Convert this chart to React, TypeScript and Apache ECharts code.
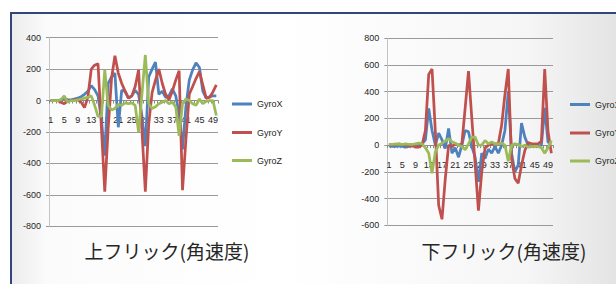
import React, { useEffect, useRef } from "react";
import * as echarts from "echarts";

const categories = [
  "1","2","3","4","5","6","7","8","9","10",
  "11","12","13","14","15","16","17","18","19","20",
  "21","22","23","24","25","26","27","28","29","30",
  "31","32","33","34","35","36","37","38","39","40",
  "41","42","43","44","45","46","47","48","49","50",
];
const seriesNames = ["GyroX", "GyroY", "GyroZ"];
const seriesColors = ["#4F81BD", "#C0504D", "#9BBB59"];

// 上フリック(角速度)
const upX = [0,0,0,5,15,5,5,10,15,25,40,60,95,70,30,-120,-350,110,150,175,-170,65,60,15,30,65,40,-100,-290,150,200,245,40,60,20,30,75,30,-90,-310,-40,130,195,240,210,60,15,25,30,30];
const upY = [0,0,0,-10,-20,0,0,5,5,-10,-45,20,200,225,235,-170,-580,-180,140,285,175,110,60,15,30,90,195,-190,-580,-150,50,130,200,110,40,5,60,130,190,-570,-250,40,90,140,185,100,15,20,55,100];
const upZ = [0,0,0,5,30,-10,0,0,5,10,15,20,30,-30,-100,-100,195,-30,-60,-50,-25,-30,-15,-20,-15,-30,-200,40,290,-20,-50,-40,-20,-10,0,-20,-10,-40,-225,-20,10,0,-20,-30,10,-20,-5,0,0,-95];

// 下フリック(角速度)
const dnX = [-5,-10,-10,-5,-10,-15,-10,-5,-10,0,10,40,275,110,0,90,40,-25,125,-60,-20,-90,0,110,100,-10,-90,-275,-60,-100,-30,-60,-10,-60,0,110,400,-60,-200,-150,165,60,0,-10,-5,-10,0,280,20,20];
const dnY = [0,5,5,10,5,0,-5,0,-15,-15,0,110,530,570,100,-450,-555,-250,0,-10,10,0,10,280,555,200,-140,-490,-200,-20,0,10,10,10,150,380,570,-100,-250,-285,-150,-40,20,10,10,10,30,570,100,-60];
const dnZ = [5,5,10,5,5,10,5,5,10,15,10,-20,-60,-210,-50,0,15,30,50,25,15,0,-10,-35,10,60,60,0,0,35,10,25,10,10,15,0,-120,0,10,5,-10,0,-15,-10,-10,-10,-20,-60,-20,35];

const upTicks = { min: -800, max: 400, interval: 200 };
const dnTicks = { min: -600, max: 800, interval: 200 };

const FONT = "'Liberation Sans', Arial, sans-serif";

const GRIDS = [
  { left: 49, top: 37.7, width: 169, height: 188.6 },
  { left: 387.3, top: 38.3, width: 165.7, height: 187 },
];

export default function App() {
  const ref = useRef<HTMLDivElement>(null);
  useEffect(() => {
    if (!ref.current) return;
    const chart = echarts.init(ref.current, undefined, { renderer: "svg" });

    const ticks = [upTicks, dnTicks];
    // place the category axis where the value axis crosses zero
    const zeroOffset = (gi: number) => {
      const t = ticks[gi];
      const g = GRIDS[gi];
      return -g.height * ((0 - t.min) / (t.max - t.min));
    };

    const mkX = (gi: number) => ({
      type: "category",
      gridIndex: gi,
      data: categories,
      boundaryGap: true,
      position: "bottom",
      offset: zeroOffset(gi),
      axisLine: { onZero: false, lineStyle: { color: "#8c8c8c", width: 1 } },
      axisTick: { show: true, interval: 0, length: 3, lineStyle: { color: "#8c8c8c" } },
      axisLabel: { interval: 3, fontSize: 9, color: "#262626", margin: 15, fontFamily: FONT },
      splitLine: { show: false },
    });
    const mkY = (gi: number) => ({
      type: "value",
      gridIndex: gi,
      min: ticks[gi].min,
      max: ticks[gi].max,
      interval: ticks[gi].interval,
      axisLine: { show: true, lineStyle: { color: "#c4c4c4", width: 1 } },
      axisTick: { show: true, length: 3, lineStyle: { color: "#9a9a9a" } },
      axisLabel: { fontSize: 9, color: "#262626", margin: 8, fontFamily: FONT },
      splitLine: { show: true, lineStyle: { color: "#9a9a9a", width: 1 } },
    });

    const data = [[upX, upY, upZ], [dnX, dnY, dnZ]];
    const series: any[] = [];
    data.forEach((set, gi) => {
      set.forEach((vals, si) => {
        series.push({
          type: "line",
          name: seriesNames[si],
          xAxisIndex: gi,
          yAxisIndex: gi,
          data: vals,
          symbol: "none",
          smooth: false,
          lineStyle: { color: seriesColors[si], width: 2.75 },
          itemStyle: { color: seriesColors[si] },
          z: 2 + si,
        });
      });
    });

    const legendTops = [99.5, 128, 156];
    const legends: any[] = [];
    [[232, 0], [570, 0.5]].forEach(([lx, dy]) => {
      seriesNames.forEach((n, i) => {
        legends.push({
          data: [n],
          left: lx,
          top: legendTops[i] + dy,
          padding: 0,
          icon: "rect",
          itemWidth: 20,
          itemHeight: 3,
          selectedMode: false,
          textStyle: { fontSize: 9, color: "#262626", fontFamily: FONT },
        });
      });
    });

    const titleStyle = {
      fontSize: 19,
      fontFamily: "'Noto Sans CJK JP'",
      fill: "#262626",
      align: "center",
      verticalAlign: "middle",
    };

    chart.setOption({
      animation: false,
      backgroundColor: "#ffffff",
      graphic: [
        {
          type: "rect",
          z: -10,
          silent: true,
          shape: { x: 11, y: 13, width: 605, height: 271 },
          style: {
            fill: new echarts.graphic.LinearGradient(0, 0, 1, 0, [
              { offset: 0, color: "#ececec" },
              { offset: 0.06, color: "#fbfbfb" },
              { offset: 0.45, color: "#ffffff" },
              { offset: 0.85, color: "#f6f6f6" },
              { offset: 1, color: "#e4e4e4" },
            ]),
          },
        },
        { type: "line", z: 100, silent: true, shape: { x1: 11, y1: 13, x2: 616, y2: 13 }, style: { stroke: "#34457a", lineWidth: 2 } },
        { type: "line", z: 100, silent: true, shape: { x1: 11, y1: 12, x2: 11, y2: 284 }, style: { stroke: "#34457a", lineWidth: 2 } },
        { type: "text", x: 167, y: 250, style: { ...titleStyle, text: "上フリック(角速度)" } },
        { type: "text", x: 504, y: 250, style: { ...titleStyle, text: "下フリック(角速度)" } },
      ],
      legend: legends,
      grid: GRIDS.map((g) => ({ ...g, containLabel: false })),
      xAxis: [mkX(0), mkX(1)],
      yAxis: [mkY(0), mkY(1)],
      series,
    });
    return () => chart.dispose();
  }, []);
  return (
    <div
      ref={ref}
      style={{ position: "absolute", left: 0, top: 0, width: 616, height: 284 }}
    />
  );
}
